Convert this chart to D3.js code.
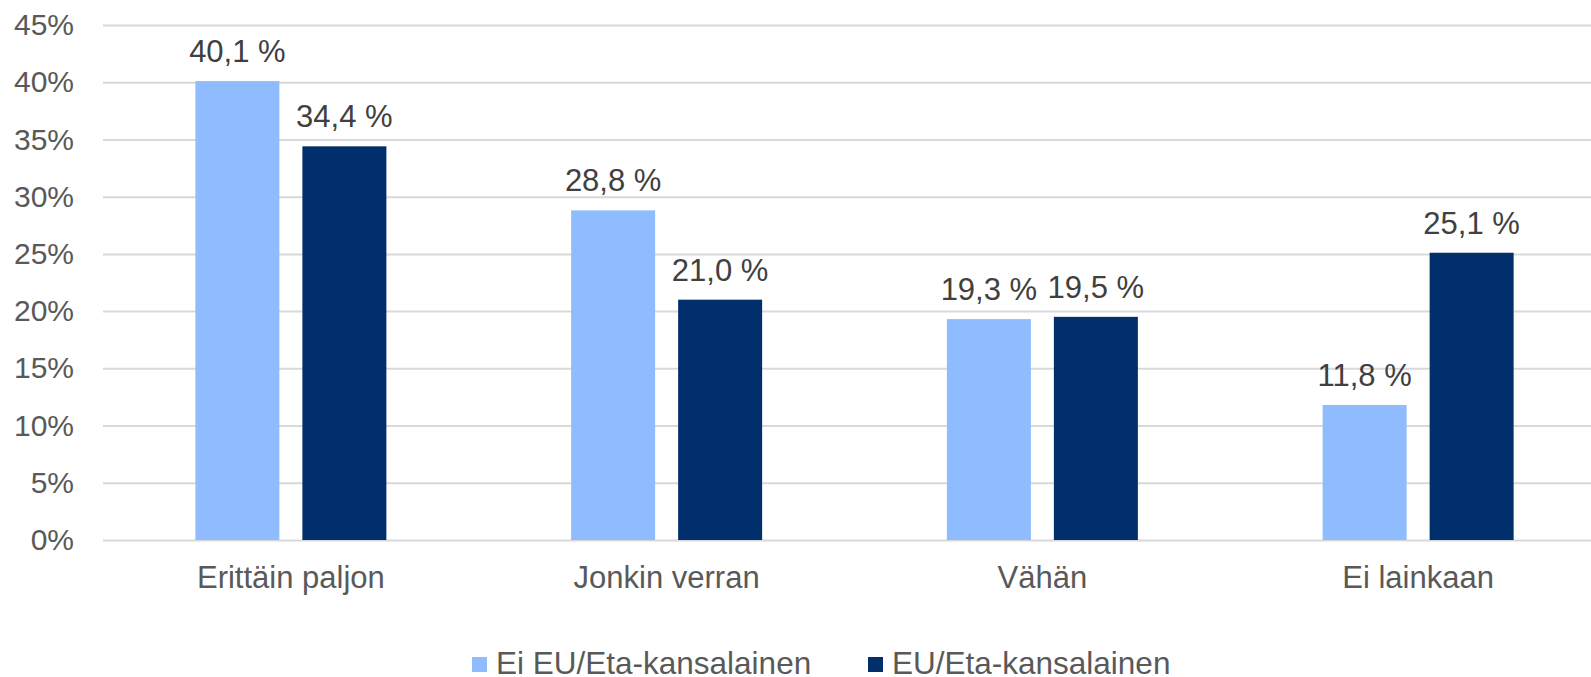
<!DOCTYPE html>
<html>
<head>
<meta charset="utf-8">
<script src="https://cdn.jsdelivr.net/npm/d3@7"></script>
<style>
	body { margin: 0; background: #fff; }
	svg { display: block; font-family: "Liberation Sans", Arial, sans-serif; }
</style>
</head>
<body>
<svg id="chart" width="1591" height="677"></svg>
<script>
var categories = ["Erittäin paljon", "Jonkin verran", "Vähän", "Ei lainkaan"];
var seriesNames = ["Ei EU/Eta-kansalainen", "EU/Eta-kansalainen"];
var nonEu = [40.1, 28.8, 19.3, 11.8];
var eu = [34.4, 21.0, 19.5, 25.1];
var yTicks = [0, 5, 10, 15, 20, 25, 30, 35, 40, 45];
var colors = ["#8fbcff", "#002f6b"];

var svg = d3.select("#chart");
var plotLeft = 103, plotRight = 1606,
	plotTop = 25, plotBottom = 540;

var x0 = d3.scaleBand()
	.domain(categories)
	.range([plotLeft, plotRight]);

var groupW = 191;
var x1 = d3.scaleBand()
	.domain(seriesNames)
	.range([0, groupW])
	.paddingInner(0.215);

var y = d3.scaleLinear()
	.domain([0, 45])
	.range([plotBottom, plotTop]);

// y axis + gridlines
var yAxis = d3.axisLeft(y)
	.tickValues(yTicks)
	.tickFormat(function(d) { return d + "%"; })
	.tickSizeInner(-(plotRight - plotLeft))
	.tickSizeOuter(0)
	.tickPadding(29);

var gy = svg.append("g")
	.attr("transform", "translate(" + plotLeft + ",0)")
	.call(yAxis);
gy.select(".domain").remove();
gy.selectAll("line").attr("stroke", "#d9d9d9").attr("stroke-width", 2);
gy.selectAll("text")
	.attr("fill", "#595959")
	.attr("font-size", 30)
	.attr("font-family", "Liberation Sans, Arial, sans-serif");

// x axis labels
var xAxis = d3.axisBottom(x0).tickSize(0).tickPadding(26);
var gx = svg.append("g")
	.attr("transform", "translate(0," + plotBottom + ")")
	.call(xAxis);
gx.select(".domain").remove();
gx.selectAll("text")
	.attr("fill", "#595959")
	.attr("font-size", 31)
	.attr("font-family", "Liberation Sans, Arial, sans-serif");

// bars
var rows = categories.map(function(c, i) {
	return { cat: c, vals: [nonEu[i], eu[i]] };
});

var groups = svg.selectAll(".grp")
	.data(rows)
	.enter().append("g")
	.attr("class", "grp")
	.attr("transform", function(d) {
		return "translate(" + (x0(d.cat) + (x0.bandwidth() - groupW) / 2) + ",0)";
	});

groups.selectAll("rect")
	.data(function(d) { return d.vals.map(function(v, j) { return { s: seriesNames[j], v: v, j: j }; }); })
	.enter().append("rect")
	.attr("x", function(d) { return x1(d.s); })
	.attr("y", function(d) { return y(d.v); })
	.attr("width", x1.bandwidth())
	.attr("height", function(d) { return plotBottom - y(d.v); })
	.attr("fill", function(d) { return colors[d.j]; });

groups.selectAll("text.lbl")
	.data(function(d) { return d.vals.map(function(v, j) { return { s: seriesNames[j], v: v }; }); })
	.enter().append("text")
	.attr("class", "lbl")
	.attr("x", function(d) { return x1(d.s) + x1.bandwidth() / 2; })
	.attr("y", function(d) { return y(d.v) - 19; })
	.attr("text-anchor", "middle")
	.attr("fill", "#404040")
	.attr("font-size", 31)
	.text(function(d) { return d.v.toFixed(1).replace(".", ",") + " %"; });

// legend
var legendItems = [
	{ name: seriesNames[0], color: colors[0], sx: 472, tx: 496 },
	{ name: seriesNames[1], color: colors[1], sx: 868, tx: 892 }
];
var lg = svg.append("g");
legendItems.forEach(function(it) {
	lg.append("rect")
		.attr("x", it.sx)
		.attr("y", 657)
		.attr("width", 15)
		.attr("height", 15)
		.attr("fill", it.color);
	lg.append("text")
		.attr("x", it.tx)
		.attr("y", 674)
		.attr("fill", "#595959")
		.attr("font-size", 31.5)
		.text(it.name);
});
</script>
</body>
</html>
